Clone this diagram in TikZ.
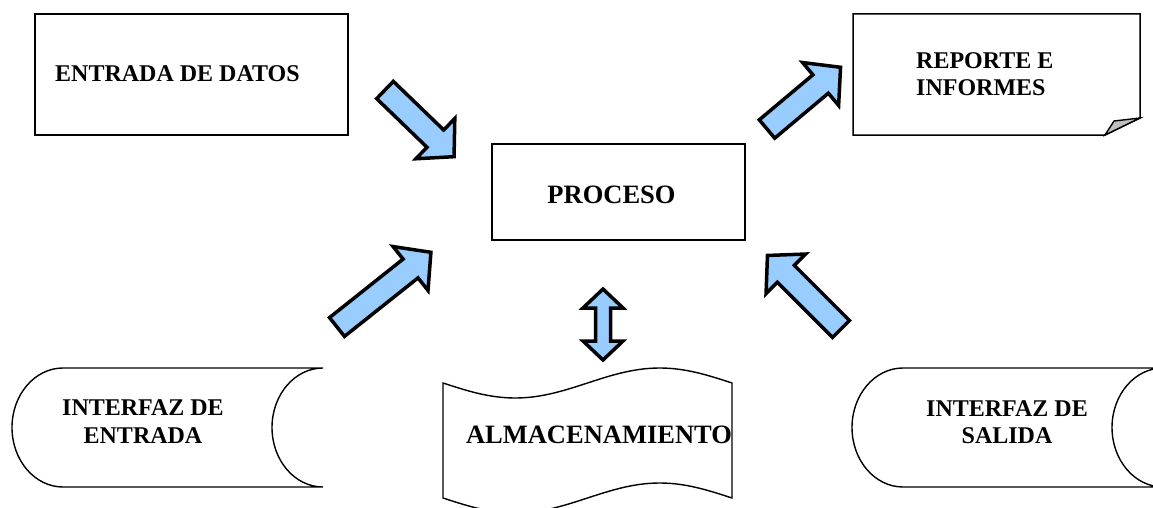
\documentclass[tikz,border=0pt]{standalone}
\usepackage{fontspec}
\setmainfont{Liberation Serif}
\usetikzlibrary{positioning}
\definecolor{azul}{HTML}{99CCFF}
\definecolor{pliegue}{HTML}{BFBFBF}

\begin{document}
\begin{tikzpicture}[x=1pt, y=-1pt,
    caja/.style={draw, line width=1.5pt, inner sep=0pt},
    borde/.style={draw, line width=1.4pt},
    texto/.style={font=\bfseries\fontsize{24}{27.5}\selectfont, inner sep=0pt},
    grande/.style={font=\bfseries\fontsize{26.5}{30}\selectfont, inner sep=0pt},
    flecha/.pic={\draw[line width=3.5pt, fill=azul] (0,-12) -- ({#1-26},-12) -- ({#1-26},-28) -- (#1,0) -- ({#1-26},28) -- ({#1-26},12) -- (0,12) -- cycle;},
    flechadoble/.pic={\draw[line width=3.5pt, fill=azul] ({-#1/2},0) -- ({-#1/2+19},-20) -- ({-#1/2+19},-7.5) -- ({#1/2-19},-7.5) -- ({#1/2-19},-20) -- ({#1/2},0) -- ({#1/2-19},20) -- ({#1/2-19},7.5) -- ({-#1/2+19},7.5) -- ({-#1/2+19},20) -- cycle;}
]
    \useasboundingbox (0,0) rectangle (1153,508);
    \clip (0,0) rectangle (1153,508);

    % cajas
    \node[caja, minimum width=313pt, minimum height=121pt] (datos) at (191.5,74.5) {};
    \node[caja, minimum width=253pt, minimum height=96pt] (proceso) at (618.5,192) {};
    \draw[caja] (853,14) -- (1140,14) -- (1140,118) -- (1105,135) -- (853,135) -- cycle;
    \draw[borde, fill=pliegue] (1105,135) -- (1114,121) -- (1140,118) -- cycle;

    % interfaces
    \draw[borde] (63,368) -- (323,368) arc[start angle=270, end angle=90, x radius=51, y radius=59.5]
        -- (63,487) arc[start angle=90, end angle=270, x radius=51, y radius=59.5];
    \draw[borde] (903,368) -- (1163,368) arc[start angle=270, end angle=90, x radius=51, y radius=59.5]
        -- (903,487) arc[start angle=90, end angle=270, x radius=51, y radius=59.5];

    % cinta
    \draw[borde] (443,383) sin (515.25,398) cos (587.5,383) sin (659.75,368) cos (732,383)
        -- (732,498) sin (659.75,483) cos (587.5,498) sin (515.25,513) cos (443,498) -- cycle;

    % textos
    \node[texto, anchor=west] (tdatos) at (55,73.5) {ENTRADA DE DATOS};
    \node[grande] (tproceso) at (611.5,194.5) {PROCESO};
    \node[texto, anchor=west, align=left] (treporte) at (916,74) {REPORTE E\\INFORMES};
    \node[texto, align=center] (tentrada) at (143,421.5) {INTERFAZ DE\\ENTRADA};
    \node[texto, align=center] (tsalida) at (1007,422) {INTERFAZ DE\\SALIDA};
    \node[grande] (talmacen) at (599,435) {ALMACENAMIENTO};

    % flechas
    \pic[rotate=-44] at (385,90) {flecha=96};
    \pic[rotate=40] at (767,129) {flecha=96};
    \pic[rotate=38.5] at (337,327) {flecha=120};
    \pic[rotate=135] at (841,329) {flecha=104};
    \pic[rotate=90] at (603,324.5) {flechadoble=71};
\end{tikzpicture}
\end{document}
